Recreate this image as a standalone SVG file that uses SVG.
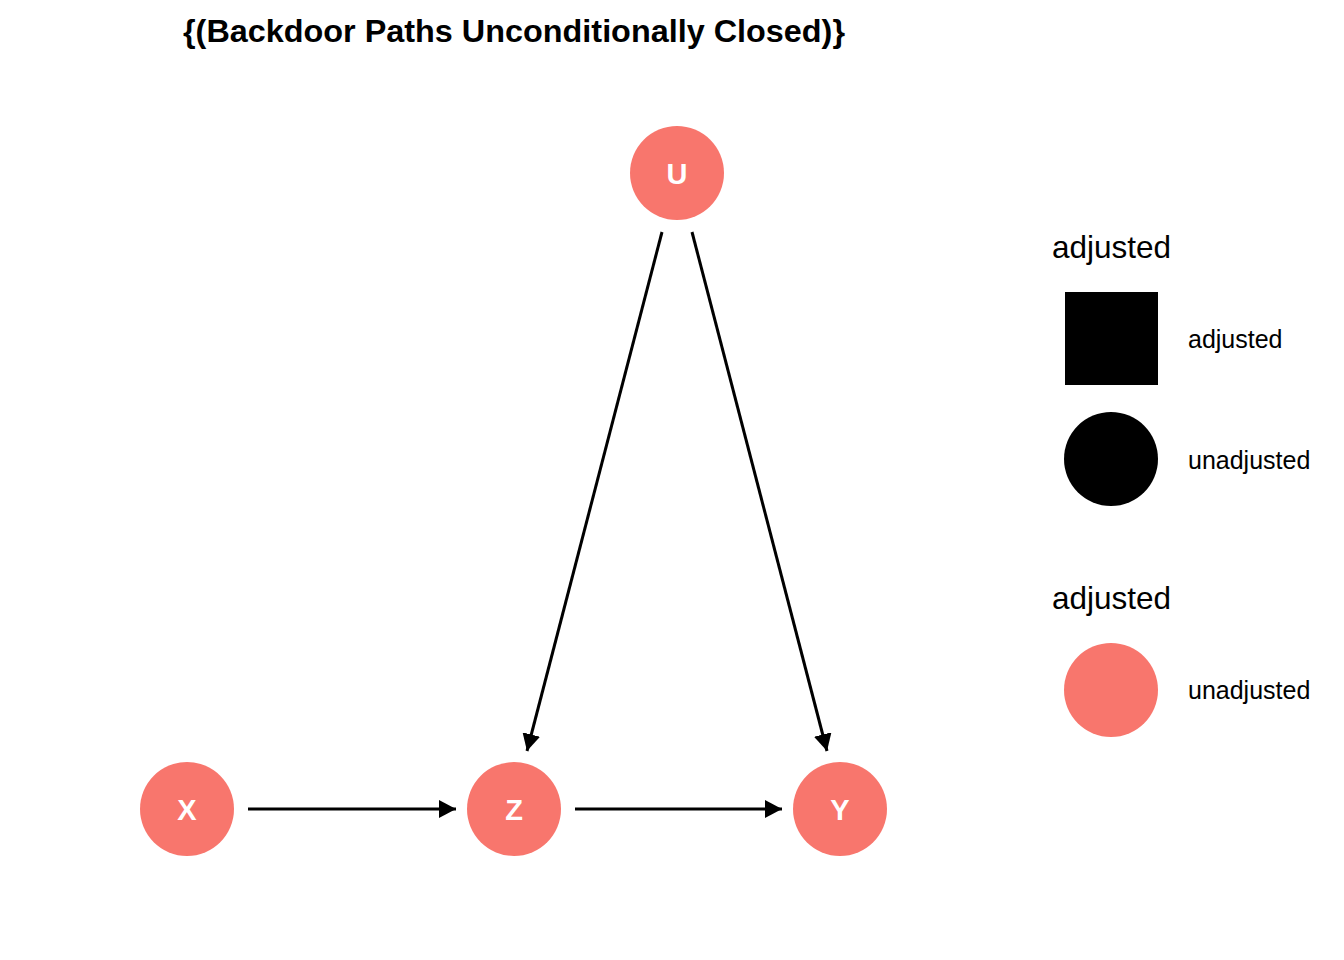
<svg xmlns="http://www.w3.org/2000/svg" width="1344" height="960" viewBox="0 0 1344 960">
<defs>
<marker id="ah" viewBox="0 0 17 18" refX="17" refY="9" markerWidth="17" markerHeight="18" markerUnits="userSpaceOnUse" orient="auto">
<path d="M0,0 L17,9 L0,18 Z" fill="#000"/>
</marker>
<style>
.node{fill:#F8766D}
.nl{font-family:"Liberation Sans",Arial,sans-serif;font-weight:bold;font-size:29px;fill:#fff;text-anchor:middle}
.edge{stroke:#000;stroke-width:3;fill:none;marker-end:url(#ah)}
.lt{font-family:"Liberation Sans",Arial,sans-serif;font-size:31.5px;fill:#000}
.ll{font-family:"Liberation Sans",Arial,sans-serif;font-size:25px;fill:#000}
</style>
</defs>
<rect width="1344" height="960" fill="#fff"/>
<text x="183" y="42" font-family="Liberation Sans,Arial,sans-serif" font-weight="bold" font-size="31" textLength="662" lengthAdjust="spacingAndGlyphs" fill="#000">{(Backdoor Paths Unconditionally Closed)}</text>
<g id="connectors">
<line class="edge" x1="248" y1="809" x2="456" y2="809"/>
<line class="edge" x1="575" y1="809" x2="782" y2="809"/>
<line class="edge" x1="662" y1="232" x2="527" y2="751"/>
<line class="edge" x1="692" y1="232" x2="827" y2="751"/>
</g>
<g id="node-U"><circle class="node" cx="677" cy="173" r="47"/><text class="nl" x="677" y="184">U</text></g>
<g id="node-X"><circle class="node" cx="187" cy="809" r="47"/><text class="nl" x="187" y="820">X</text></g>
<g id="node-Z"><circle class="node" cx="514" cy="809" r="47"/><text class="nl" x="514" y="820">Z</text></g>
<g id="node-Y"><circle class="node" cx="840" cy="809" r="47"/><text class="nl" x="840" y="820">Y</text></g>
<g id="legend">
<text class="lt" x="1052" y="258">adjusted</text>
<rect x="1065" y="292" width="93" height="93" fill="#000"/>
<text class="ll" x="1188" y="348">adjusted</text>
<circle cx="1111" cy="459" r="47" fill="#000"/>
<text class="ll" x="1188" y="469">unadjusted</text>
<text class="lt" x="1052" y="609">adjusted</text>
<circle cx="1111" cy="690" r="47" fill="#F8766D"/>
<text class="ll" x="1188" y="699">unadjusted</text>
</g>
</svg>
